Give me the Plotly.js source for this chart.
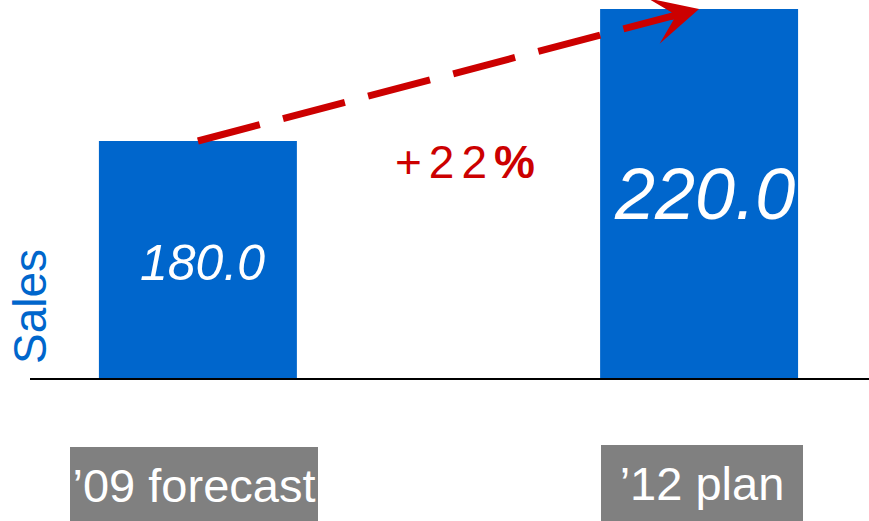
<!DOCTYPE html>
<html>
<head>
<meta charset="utf-8">
<script src="https://cdn.plot.ly/plotly-3.0.1.min.js"></script>
<style>
  html, body { margin: 0; padding: 0; background: #ffffff; }
  #chart { width: 869px; height: 521px; }
</style>
</head>
<body>
<div id="chart"></div>
<script>
// ---- data ----
const categories = ["\u201909 forecast", "\u201912 plan"];
const sales = [180.0, 220.0];
const growthLabel = "+22";
const yTitle = "Sales";

// ---- styles ----
const BLUE = "#0066CC";
const RED = "#CC0000";
const GREY = "#808080";
const FONT = "Liberation Sans, Arial, sans-serif";
const barLabelSizes = [50, 72];
const barLabelShiftY = [-3, 0];
const yMin = 108.18, yMax = 222.73;

const trace = {
  type: "bar",
  x: categories,
  y: sales,
  width: 0.395,
  marker: { color: BLUE, line: { width: 0 } },
  hoverinfo: "skip"
};

const frac = 0.06;
const annotations = [
  // arrow head at the end of the dashed growth line
  {
    xref: "x", yref: "y", axref: "x", ayref: "y",
    x: 1, y: sales[1],
    ax: 1 - frac, ay: sales[1] - frac * (sales[1] - sales[0]),
    text: "",
    showarrow: true,
    arrowhead: 3,
    arrowsize: 1.12,
    arrowwidth: 7,
    arrowcolor: RED,
    standoff: 0
  },
  // growth label
  {
    xref: "x", yref: "paper",
    x: 0.5, y: 0.571, xshift: 16,
    xanchor: "center", yanchor: "middle",
    text: '<span style="letter-spacing:7px">' + growthLabel + '</span><b>%</b>',
    showarrow: false,
    font: { family: FONT, size: 46, color: RED }
  },
  // y-axis title
  {
    xref: "paper", yref: "paper",
    x: 0, y: 0.1878,
    xanchor: "center", yanchor: "middle",
    text: yTitle,
    textangle: -90,
    showarrow: false,
    font: { family: FONT, size: 46, color: BLUE }
  },
  // category label boxes
  {
    xref: "x", yref: "paper",
    x: 0, y: 0, yanchor: "top", xanchor: "center",
    xshift: -4, yshift: -69,
    text: categories[0],
    showarrow: false,
    width: 248, height: 76,
    bgcolor: GREY, borderpad: 0, borderwidth: 0,
    valign: "middle",
    font: { family: FONT, size: 47, color: "#ffffff" }
  },
  {
    xref: "x", yref: "paper",
    x: 1, y: 0, yanchor: "top", xanchor: "center",
    xshift: 2.5, yshift: -67,
    text: categories[1],
    showarrow: false,
    width: 202, height: 76,
    bgcolor: GREY, borderpad: 0, borderwidth: 0,
    valign: "middle",
    font: { family: FONT, size: 47, color: "#ffffff" }
  }
];

// value labels centred in the visible part of each bar
sales.forEach(function (v, i) {
  annotations.push({
    xref: "x", yref: "y",
    x: i, y: (v + yMin) / 2,
    xanchor: "center", yanchor: "middle",
    xshift: 5, yshift: barLabelShiftY[i],
    text: "<i>" + v.toFixed(1) + "</i>",
    showarrow: false,
    font: { family: FONT, size: barLabelSizes[i], color: "#ffffff" }
  });
});

const layout = {
  width: 869,
  height: 521,
  margin: { l: 30, r: 0, t: 0, b: 143, pad: 0 },
  paper_bgcolor: "#ffffff",
  plot_bgcolor: "#ffffff",
  showlegend: false,
  font: { family: FONT },
  xaxis: {
    type: "category",
    range: [-0.335, 1.339],
    showticklabels: false,
    showgrid: false,
    zeroline: false,
    showline: true,
    linecolor: "#000000",
    linewidth: 2,
    ticks: "",
    fixedrange: true
  },
  yaxis: {
    range: [yMin, yMax],
    visible: false,
    showgrid: false,
    zeroline: false,
    fixedrange: true
  },
  shapes: [
    {
      type: "line",
      xref: "x", yref: "y",
      x0: 0, y0: sales[0],
      x1: 1, y1: sales[1],
      line: { color: RED, width: 7, dash: "64px,24px" }
    }
  ],
  annotations: annotations
};

Plotly.newPlot("chart", [trace], layout, { displayModeBar: false, staticPlot: true });
</script>
</body>
</html>
